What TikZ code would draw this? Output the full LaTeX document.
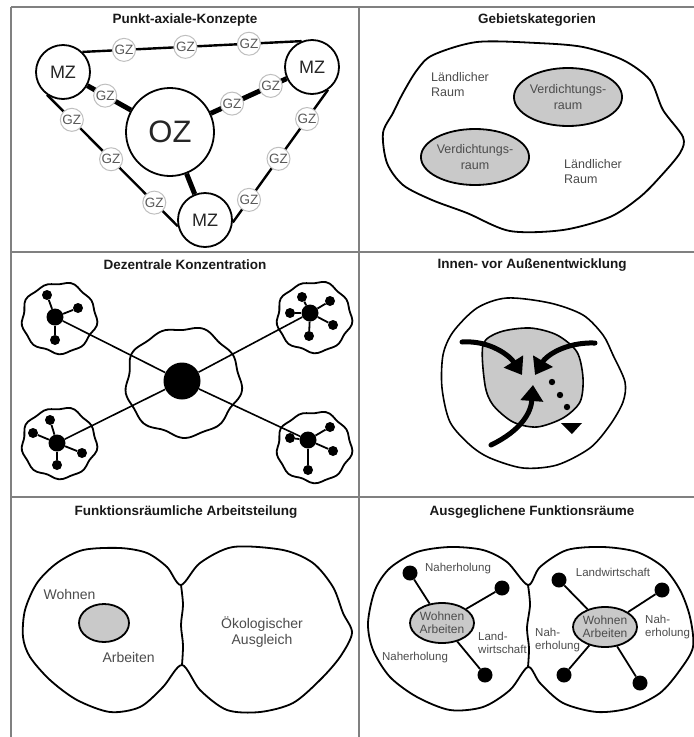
\documentclass[tikz,border=0pt]{standalone}
\usepackage{fontspec}
\setmainfont{Liberation Sans}
\usepackage{tikz}
\usetikzlibrary{positioning, arrows.meta, shapes.geometric}

\definecolor{areafill}{gray}{0.79}
\definecolor{lbltext}{gray}{0.30}
\definecolor{gridline}{gray}{0.50}

\tikzset{
  panel/.style={draw=gridline, line width=1.3pt},
  ttl/.style={font=\bfseries\fontsize{13.5}{16}\selectfont, text=black!90},
  lbl/.style={text=lbltext, align=center, font=\fontsize{12.5}{15}\selectfont, inner sep=1pt},
  ring/.style={draw=black, line width=1.8pt, line join=round},
  axis/.style={draw=black, line width=2.4pt},
  mainaxis/.style={draw=black, line width=5pt},
  gz/.style={circle, draw=black!25, line width=1pt, fill=white, inner sep=0pt, minimum size=23pt, text=black!65, font=\fontsize{13.5}{15}\selectfont},
  mz/.style={circle, draw=black, line width=1.8pt, fill=white, inner sep=0pt, minimum size=54pt, text=black!85, font=\fontsize{18}{20}\selectfont},
  oz/.style={mz, minimum size=88pt, font=\fontsize{31}{33}\selectfont},
  bigdot/.style={circle, fill=black, inner sep=0pt, minimum size=37pt},
  hub/.style={circle, fill=black, inner sep=0pt, minimum size=17pt},
  sdot/.style={circle, fill=black, inner sep=0pt, minimum size=10pt},
  fdot/.style={circle, fill=black, inner sep=0pt, minimum size=15pt},
  spoke/.style={draw=black, line width=1.8pt},
  zone/.style={ellipse, draw=black, line width=1.8pt, fill=areafill, inner sep=0pt, align=center, text=lbltext},
  flow/.style={line width=5pt, line cap=round, -{Triangle[length=16pt,width=22pt]}},
}

% wobbly outline round a centre
\newcommand{\wobbly}[5][]{%
  \draw[ring,#1] plot[smooth cycle, domain=0:354, samples=60, variable=\t]
    ({#2+#4*(1+0.03*sin(9*\t)+0.02*sin(5*\t+70))*cos(\t)},
     {#3+#5*(1+0.03*sin(9*\t)+0.02*sin(5*\t+70))*sin(\t)});}

\begin{document}
\begin{tikzpicture}[x=1pt, y=-1pt]
  \useasboundingbox (0,0) rectangle (694,737);
  \fill[white] (0,0) rectangle (694,737);

  % frame
  \draw[panel] (11,7) -- (694,7);
  \draw[panel] (11,7) -- (11,737);
  \draw[panel] (359,7) -- (359,737);
  \draw[panel] (11,252) -- (694,252);
  \draw[panel] (11,497) -- (694,497);

  % titles
  \node[ttl] (t1) at (185,20) {Punkt-axiale-Konzepte};
  \node[ttl] (t2) at (537,20) {Gebietskategorien};
  \node[ttl] (t3) at (185,265) {Dezentrale Konzentration};
  \node[ttl] (t4) at (532,265) {Innen- vor Außenentwicklung};
  \node[ttl] (t5) at (186,512) {Funktionsräumliche Arbeitsteilung};
  \node[ttl] (t6) at (532,512) {Ausgeglichene Funktionsräume};

  % --- Punkt-axiale-Konzepte
  \node[oz] (oz) at (170,132) {OZ};
  \node[mz] (mzl) at (63,72) {MZ};
  \node[mz] (mzr) at (312,67) {MZ};
  \node[mz] (mzb) at (205,220) {MZ};

  \draw[axis] (mzl.46) -- node[gz,pos=.19] (gz1) {GZ} node[gz,pos=.47] (gz2) {GZ} node[gz,pos=.76] (gz3) {GZ} (mzr.112);
  \draw[axis] (mzl.235) -- node[gz,pos=.19] (gz4) {GZ} node[gz,pos=.49] (gz5) {GZ} node[gz,pos=.82] (gz6) {GZ} (mzb.193);
  \draw[axis] (mzr.305) -- node[gz,pos=.22] (gz7) {GZ} node[gz,pos=.52] (gz8) {GZ} node[gz,pos=.83] (gz9) {GZ} (mzb.355);

  \draw[mainaxis] (oz) -- node[gz,pos=.59] (gz10) {GZ} (mzl);
  \draw[mainaxis] (oz) -- node[gz,pos=.28] (gz11) {GZ} node[gz,pos=.79] (gz12) {GZ} (mzr);
  \draw[mainaxis] (oz) -- (mzb);

  % --- Gebietskategorien
  \draw[ring] plot[smooth cycle] coordinates {(433,55) (477,42) (537,43) (583,47) (623,60) (650,80) (663,110) (683,137) (680,153) (660,177) (640,197) (610,217) (563,230) (510,231) (467,213) (432,200) (403,185) (387,163) (383,133) (393,113) (403,93) (417,70)};
  \node[zone, minimum width=106pt, minimum height=58pt, font=\fontsize{12.5}{16}\selectfont] (vr1) at (568,97) {Verdichtungs-\\raum};
  \node[zone, minimum width=106pt, minimum height=56pt, font=\fontsize{12.5}{16}\selectfont] (vr2) at (475,157) {Verdichtungs-\\raum};
  \node[lbl, anchor=west, align=left] (lr1) at (430,85) {Ländlicher\\Raum};
  \node[lbl, anchor=west, align=left] (lr2) at (563,172) {Ländlicher\\Raum};

  % --- Dezentrale Konzentration
  \wobbly{183}{382}{57}{54}
  \wobbly{59}{318}{37}{35}
  \wobbly{314}{317}{37}{35}
  \wobbly{59}{443}{37}{35}
  \wobbly{314}{447}{37}{35}

  \node[bigdot] (cd) at (182,381) {};
  \node[hub] (h1) at (55,317) {};
  \node[hub] (h2) at (310,313) {};
  \node[hub] (h3) at (57,443) {};
  \node[hub] (h4) at (308,440) {};
  \draw[spoke, line width=1.6pt] (h1) -- (cd);
  \draw[spoke, line width=1.6pt] (h2) -- (cd);
  \draw[spoke, line width=1.6pt] (h3) -- (cd);
  \draw[spoke, line width=1.6pt] (h4) -- (cd);

  \node[sdot] (h1a) at (47,295) {};
  \node[sdot] (h1b) at (78,308) {};
  \node[sdot] (h1c) at (55,340) {};
  \draw[spoke] (h1) -- (h1a);
  \draw[spoke] (h1) -- (h1b);
  \draw[spoke] (h1) -- (h1c);

  \node[sdot] (h2a) at (302,297) {};
  \node[sdot] (h2b) at (330,301) {};
  \node[sdot] (h2c) at (290,313) {};
  \node[sdot] (h2d) at (333,325) {};
  \node[sdot] (h2e) at (309,336) {};
  \draw[spoke] (h2) -- (h2a);
  \draw[spoke] (h2) -- (h2b);
  \draw[spoke] (h2) -- (h2c);
  \draw[spoke] (h2) -- (h2d);
  \draw[spoke] (h2) -- (h2e);

  \node[sdot] (h3a) at (50,420) {};
  \node[sdot] (h3b) at (33,433) {};
  \node[sdot] (h3c) at (82,453) {};
  \node[sdot] (h3d) at (57,465) {};
  \draw[spoke] (h3) -- (h3a);
  \draw[spoke] (h3) -- (h3b);
  \draw[spoke] (h3) -- (h3c);
  \draw[spoke] (h3) -- (h3d);

  \node[sdot] (h4a) at (330,427) {};
  \node[sdot] (h4b) at (290,438) {};
  \node[sdot] (h4c) at (333,451) {};
  \node[sdot] (h4d) at (308,470) {};
  \draw[spoke] (h4) -- (h4a);
  \draw[spoke] (h4) -- (h4b);
  \draw[spoke] (h4) -- (h4c);
  \draw[spoke] (h4) -- (h4d);

  % --- Innen- vor Aussenentwicklung
  \draw[ring, line width=1.6pt] plot[smooth cycle] coordinates {(477,308) (507,298) (550,303) (583,315) (603,335) (613,355) (625,382) (623,402) (610,425) (590,448) (557,465) (523,468) (490,458) (470,445) (450,422) (442,388) (443,355) (453,332)};
  \draw[ring, line width=1.6pt, fill=areafill] plot[smooth cycle] coordinates {(483,345) (500,332) (530,328) (557,335) (577,352) (583,378) (580,402) (563,418) (537,427) (513,422) (493,405) (485,385)};

  \coordinate (in1) at (462,342);
  \coordinate (in2) at (595,343);
  \coordinate (in3) at (491,445);
  \draw[flow] (in1) .. controls (490,340) and (510,356) .. (522,375);
  \draw[flow] (in2) .. controls (565,342) and (546,356) .. (535,375);
  \draw[flow] (in3) .. controls (522,430) and (531,412) .. (533,385);
  \fill (552,382) circle (3.2pt);
  \fill (560,395) circle (3.2pt);
  \fill (567,407) circle (3.2pt);
  \fill (561,423) -- (582,423) -- (572,434) -- cycle;

  % --- Funktionsraeumliche Arbeitsteilung
  \draw[ring] plot[smooth cycle] coordinates {(181,585) (167,567) (147,553) (120,548) (83,550) (57,563) (37,583) (25,610) (23,637) (30,657) (50,680) (77,700) (110,712) (140,707) (163,687) (182,665) (200,690) (227,710) (260,712) (293,703) (320,680) (340,657) (352,633) (343,613) (333,587) (313,563) (283,550) (233,547) (200,563)};
  \draw[ring] plot[smooth] coordinates {(181,585) (183,605) (181,625) (183,645) (182,665)};
  \node[zone, minimum width=50pt, minimum height=38pt] (wa5) at (104,623) {};
  \node[lbl, font=\fontsize{14}{16}\selectfont, above left=8pt and -11pt of wa5] (wo5) {Wohnen};
  \node[lbl, font=\fontsize{14}{16}\selectfont, below right=14pt and -21pt of wa5] (ar5) {Arbeiten};
  \node[lbl, font=\fontsize{14}{16}\selectfont] (oek5) at (262,632) {Ökologischer\\Ausgleich};

  % --- Ausgeglichene Funktionsraeume
  \draw[ring] plot[smooth cycle] coordinates {(528,585) (507,562) (483,550) (450,547) (417,552) (390,568) (375,590) (368,623) (373,650) (390,677) (417,697) (450,710) (483,707) (510,690) (528,667) (540,683) (563,703) (597,712) (630,708) (660,693) (680,670) (693,647) (690,617) (680,590) (663,567) (637,552) (603,547) (567,550) (540,567)};
  \draw[ring] plot[smooth] coordinates {(528,585) (530,605) (527,628) (529,648) (528,667)};

  \node[zone, minimum width=64pt, minimum height=40pt, font=\fontsize{12}{13}\selectfont] (wa6l) at (442,623) {Wohnen\\Arbeiten};
  \node[zone, minimum width=64pt, minimum height=40pt, font=\fontsize{12}{13}\selectfont] (wa6r) at (605,627) {Wohnen\\Arbeiten};

  \node[fdot] (f1) at (410,573) {};
  \node[fdot] (f2) at (502,588) {};
  \node[fdot] (f3) at (485,675) {};
  \draw[spoke] (wa6l) -- (f1);
  \draw[spoke] (wa6l) -- (f2);
  \draw[spoke] (wa6l) -- (f3);
  \node[fdot] (f4) at (559,580) {};
  \node[fdot] (f5) at (662,590) {};
  \node[fdot] (f6) at (564,675) {};
  \node[fdot] (f7) at (640,683) {};
  \draw[spoke] (wa6r) -- (f4);
  \draw[spoke] (wa6r) -- (f5);
  \draw[spoke] (wa6r) -- (f6);
  \draw[spoke] (wa6r) -- (f7);

  \node[lbl, font=\fontsize{11.5}{13}\selectfont] (nh1) at (458,569) {Naherholung};
  \node[lbl, font=\fontsize{11.5}{13}\selectfont, anchor=west, align=left] (lw1) at (477,643) {Land-\\wirtschaft};
  \node[lbl, font=\fontsize{11.5}{13}\selectfont] (nh2) at (415,658) {Naherholung};
  \node[lbl, font=\fontsize{11.5}{13}\selectfont, anchor=west, align=left] (nh3) at (534,640) {Nah-\\erholung};
  \node[lbl, font=\fontsize{11.5}{13}\selectfont] (lw2) at (613,572) {Landwirtschaft};
  \node[lbl, font=\fontsize{11.5}{13}\selectfont, anchor=west, align=left] (nh4) at (644,627) {Nah-\\erholung};
\end{tikzpicture}
\end{document}
